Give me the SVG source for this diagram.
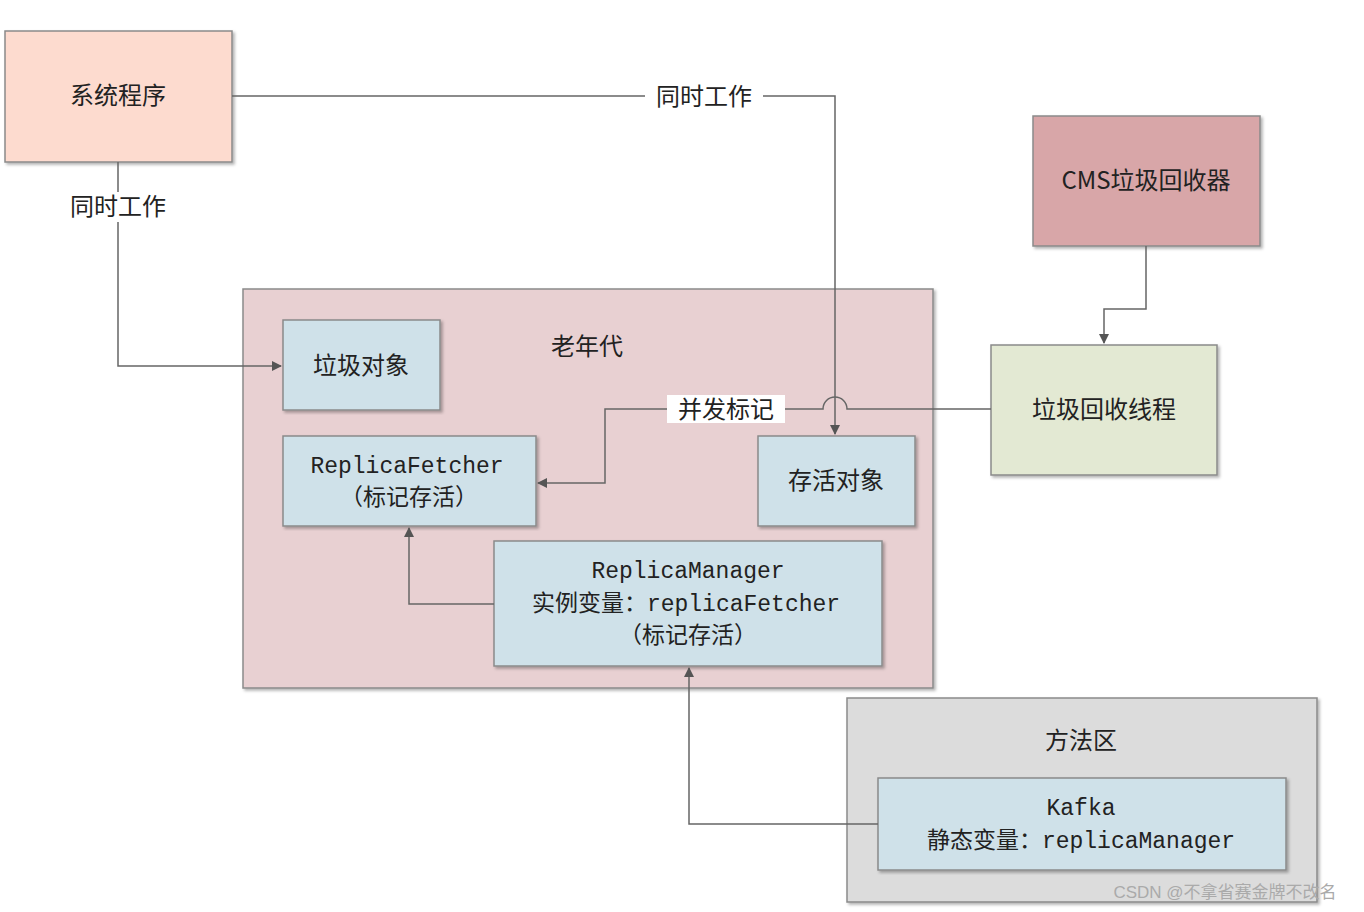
<svg xmlns="http://www.w3.org/2000/svg" width="1364" height="912" viewBox="0 0 1364 912">
<defs>
<filter id="sh" x="-5%" y="-5%" width="110%" height="110%"><feDropShadow dx="2" dy="2" stdDeviation="1.5" flood-color="#000" flood-opacity="0.3"/></filter>
<marker id="ar" markerWidth="10" markerHeight="10" refX="9" refY="5" orient="auto" markerUnits="userSpaceOnUse"><path d="M0,0 L10,5 L0,10 z" fill="#555"/></marker>
<style>
rect{stroke:#8a8a8a;stroke-width:1.5;filter:url(#sh)}
text{font-family:"Liberation Mono","Noto Sans CJK SC",monospace;font-size:23px;fill:#222;text-anchor:middle}
.c{font-family:"Noto Sans CJK SC","Liberation Sans",sans-serif;font-size:24px}
.l{fill:none;stroke:#666;stroke-width:1.5}
.blue{fill:#cfe1e9}
</style>
</defs>
<rect width="1364" height="912" fill="#fff" style="stroke:none;filter:none"/>
<g id="sys"><rect x="5" y="31" width="227" height="131" fill="#fddbcf"/><text class="c" x="118" y="104">系统程序</text></g>
<g id="cms"><rect x="1033" y="116" width="227" height="130" fill="#d8a6a8"/><text class="c" x="1146" y="189">CMS垃圾回收器</text></g>
<g id="old"><rect x="243" y="289" width="690" height="399" fill="#e8d0d2"/><text class="c" x="587" y="355">老年代</text></g>
<g id="garbage"><rect class="blue" x="283" y="320" width="157" height="90"/><text class="c" x="361" y="374">垃圾对象</text></g>
<g id="fetcher"><rect class="blue" x="283" y="436" width="253" height="90"/><text x="407" y="473">ReplicaFetcher</text><text x="409" y="505">（标记存活）</text></g>
<g id="alive"><rect class="blue" x="758" y="436" width="157" height="90"/><text class="c" x="836" y="489">存活对象</text></g>
<g id="manager"><rect class="blue" x="494" y="541" width="388" height="125"/><text x="688" y="578">ReplicaManager</text><text x="686" y="611">实例变量：replicaFetcher</text><text x="688" y="643">（标记存活）</text></g>
<g id="gcthread"><rect x="991" y="345" width="226" height="130" fill="#e3e9d3"/><text class="c" x="1104" y="418">垃圾回收线程</text></g>
<g id="method"><rect x="847" y="698" width="470" height="204" fill="#dcdcdc"/><text class="c" x="1081" y="749">方法区</text></g>
<g id="kafka"><rect class="blue" x="878" y="778" width="408" height="92"/><text x="1081" y="815">Kafka</text><text x="1081" y="848">静态变量：replicaManager</text></g>
<g id="connectors">
<path class="l" d="M232,96 H835 V434" marker-end="url(#ar)"/>
<rect x="645" y="82" width="118" height="28" fill="#fff" style="stroke:none;filter:none"/>
<text class="c" x="704" y="105">同时工作</text>
<path class="l" d="M118,162 V366 H281" marker-end="url(#ar)"/>
<rect x="58" y="192" width="120" height="30" fill="#fff" style="stroke:none;filter:none"/>
<text class="c" x="118" y="215">同时工作</text>
<path class="l" d="M1146,246 V309 H1104 V343" marker-end="url(#ar)"/>
<path class="l" d="M991,409 H847 A12,12 0 0 0 823,409 H605 V483 H538" marker-end="url(#ar)"/>
<rect x="667" y="395" width="118" height="28" fill="#fff" style="stroke:none;filter:none"/>
<text class="c" x="726" y="418">并发标记</text>
<path class="l" d="M494,604 H409 V528" marker-end="url(#ar)"/>
<path class="l" d="M878,824 H689 V668" marker-end="url(#ar)"/>
</g>
<text x="1225" y="898" style="font-family:'Liberation Sans','Noto Sans CJK SC',sans-serif;font-size:17px;fill:#aaa">CSDN @不拿省赛金牌不改名</text>
</svg>
